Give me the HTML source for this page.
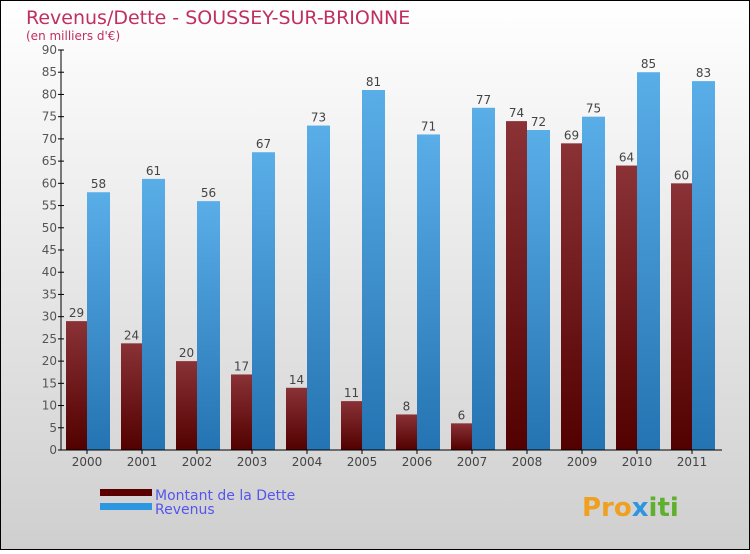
<!DOCTYPE html>
<html><head><meta charset="utf-8"><style>
body{margin:0}
#c{width:750px;height:550px;position:relative;font-family:"DejaVu Sans","Liberation Sans",sans-serif}
</style></head><body>
<div id="c">
<svg id="s" width="750" height="550" xmlns="http://www.w3.org/2000/svg">
<defs>
<linearGradient id="bg" x1="0" y1="0" x2="0" y2="1"><stop offset="0" stop-color="#ffffff"/><stop offset="1" stop-color="#cfcfcf"/></linearGradient>
<linearGradient id="gd" x1="0" y1="0" x2="0" y2="1"><stop offset="0" stop-color="#8a3236"/><stop offset="1" stop-color="#520000"/></linearGradient>
<linearGradient id="gr" x1="0" y1="0" x2="0" y2="1"><stop offset="0" stop-color="#5aaee8"/><stop offset="1" stop-color="#2473b2"/></linearGradient>
</defs>
<rect x="0.5" y="0.5" width="749" height="549" fill="url(#bg)" stroke="#000"/>
<text x="26" y="24" font-size="19" fill="#c0305f">Revenus/Dette - SOUSSEY-SUR-BRIONNE</text>
<text x="26" y="40" font-size="12" fill="#c0305f">(en milliers d'€)</text>
<g id="plot"></g>
<rect x="100" y="489" width="52" height="7" fill="#5a0000"/>
<rect x="100" y="503" width="52" height="7" fill="#2d96e0"/>
<text x="155" y="500" font-size="14" fill="#5555ee">Montant de la Dette</text>
<text x="155" y="514" font-size="14" fill="#5555ee">Revenus</text>
<text x="582" y="516" font-size="26" font-weight="bold" fill="#f0a020">Pro<tspan fill="#2d96e0">x</tspan><tspan fill="#60b030">iti</tspan></text>
</svg>
</div>
<script>
const years=["2000","2001","2002","2003","2004","2005","2006","2007","2008","2009","2010","2011"];
const dette=[29,24,20,17,14,11,8,6,74,69,64,60];
const revenus=[58,61,56,67,73,81,71,77,72,75,85,83];
const yTicks=[0,5,10,15,20,25,30,35,40,45,50,55,60,65,70,75,80,85,90];
const NS="http://www.w3.org/2000/svg";
const g=document.getElementById("plot");
const y0=450,yTop=50,yMax=90,x0=61,gw=55;
function y(v){return y0-(v/yMax)*(y0-yTop);}
function gx(i){return x0+5+i*gw;}
function mk(t,a,txt){const e=document.createElementNS(NS,t);for(const k in a)e.setAttribute(k,a[k]);if(txt!==undefined)e.textContent=txt;g.appendChild(e);return e;}
years.forEach((yr,i)=>{
  const bx=gx(i);
  let r=mk("rect",{x:bx,y:y(dette[i]),width:21,height:y0-y(dette[i]),fill:"url(#gd)"});
  
  
  let r2=mk("rect",{x:bx+21,y:y(revenus[i]),width:23,height:y0-y(revenus[i]),fill:"url(#gr)"});
  
  
  let t=mk("text",{x:bx+10.5,y:y(dette[i])-4,"font-size":12,fill:"#444","text-anchor":"middle"},dette[i]);
  
  
  let t2=mk("text",{x:bx+32.5,y:y(revenus[i])-4,"font-size":12,fill:"#444","text-anchor":"middle"},revenus[i]);
  
  
  let xl=mk("text",{x:bx+21,y:466,"font-size":12,fill:"#444","text-anchor":"middle"},yr);
  
  
  mk("line",{x1:bx+21,x2:bx+21,y1:450,y2:454,stroke:"#000"});
});
yTicks.forEach(v=>{
  mk("line",{x1:x0-3,x2:x0+3,y1:y(v),y2:y(v),stroke:"#000"});
  let t=mk("text",{x:x0-4,y:y(v)+4,"font-size":12,fill:"#555","text-anchor":"end"},v);
  
  
});
let ax=mk("line",{x1:x0,x2:x0,y1:yTop,y2:y0,stroke:"#000"});


let bx=mk("line",{x1:x0,x2:722,y1:y0,y2:y0,stroke:"#000"});


</script>
</body></html>
